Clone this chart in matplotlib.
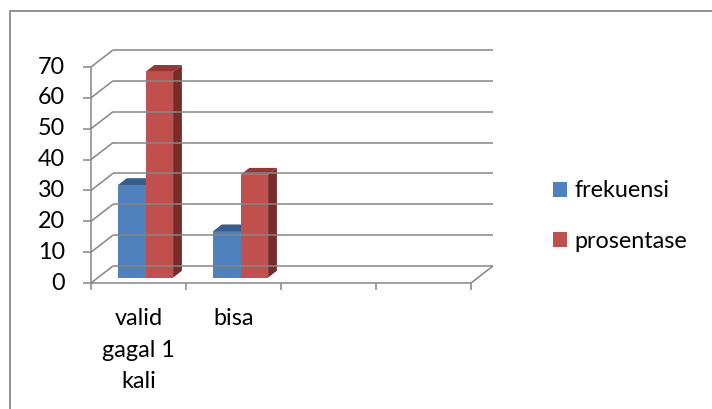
import numpy as np
import matplotlib
matplotlib.use("Agg")
import matplotlib.pyplot as plt
from matplotlib.patches import Polygon, Rectangle
from matplotlib.lines import Line2D
from matplotlib.transforms import IdentityTransform

# ---- data ----
categories = ["valid\ngagal 1\nkali", "bisa", "", ""]
series_names = ["frekuensi", "prosentase"]
frekuensi = [30, 15]
prosentase = [66.67, 33.33]
y_ticks = [0, 10, 20, 30, 40, 50, 60, 70]

# ---- style ----
FONT = "Lato"
FS = 16.8
GRID = "#868686"
BLUE = ("#4F81BD", "#385D8A", "#2C4D75")
RED = ("#C0504D", "#943634", "#772C2A")
DEPTH = np.array([22.0, 17.0])   # pixel offset from front plane to back wall
BAR_D0, BAR_D1 = 0.32, 0.72       # bar depth span (fraction of floor depth)
BAR_W = 0.29                      # bar width in category units

plt.rcParams["font.family"] = [FONT, "DejaVu Sans"]

W, H, DPI = 712, 409, 100
fig = plt.figure(figsize=(W / DPI, H / DPI), dpi=DPI)
ax = fig.add_axes([91 / W, 126 / H, 380 / W, 216 / H])
ax.set_xlim(0, len(categories))
ax.set_ylim(y_ticks[0], y_ticks[-1])
ax.axis("off")

ident = IdentityTransform()


def proj(x, v, d=0.0):
    """Screen position of (category x, value v) pushed d of the way to the back wall."""
    return ax.transData.transform((x, v)) + d * DEPTH


def seg(p0, p1, color=GRID, lw=1.1):
    fig.add_artist(Line2D([p0[0], p1[0]], [p0[1], p1[1]], transform=ident,
                          color=color, lw=lw, solid_capstyle="butt"))


def poly(pts, color):
    fig.add_artist(Polygon(np.array(pts), closed=True, transform=ident,
                           facecolor=color, edgecolor="none"))


n = len(categories)

# back wall + left wall gridlines
for v in y_ticks:
    seg(proj(0, v, 1), proj(n, v, 1))
    seg(proj(0, v, 0), proj(0, v, 1))

# floor edges
seg(proj(0, 0, 0), proj(n, 0, 0))
seg(proj(n, 0, 0), proj(n, 0, 1))

# value axis with ticks and labels
seg(proj(0, 0), proj(0, y_ticks[-1]))
for v in y_ticks:
    p = proj(0, v)
    seg(p + np.array([-8, 0]), p)
    ax.annotate(str(v), xy=(0, v), xytext=(-26, 0), textcoords="offset pixels",
                ha="right", va="center", fontsize=FS, annotation_clip=False)

# category axis ticks and labels
for i in range(n + 1):
    p = proj(i, 0)
    seg(p, p + np.array([0, -7]))
for i, cat in enumerate(categories):
    if cat:
        ax.annotate(cat, xy=(i + 0.5, 0), xytext=(0, -25), textcoords="offset pixels",
                    ha="center", va="top", fontsize=FS, linespacing=1.62,
                    annotation_clip=False)


def bar3d(x0, x1, v, colors):
    front, top, side = colors
    poly([proj(x1, 0, BAR_D0), proj(x1, 0, BAR_D1), proj(x1, v, BAR_D1), proj(x1, v, BAR_D0)], side)
    poly([proj(x0, 0, BAR_D0), proj(x1, 0, BAR_D0), proj(x1, v, BAR_D0), proj(x0, v, BAR_D0)], front)
    poly([proj(x0, v, BAR_D0), proj(x1, v, BAR_D0), proj(x1, v, BAR_D1), proj(x0, v, BAR_D1)], top)


for i in range(len(frekuensi)):
    c = i + 0.5
    bar3d(c - BAR_W, c, frekuensi[i], BLUE)
    bar3d(c, c + BAR_W, prosentase[i], RED)

# legend
handles = [Rectangle((0, 0), 1, 1, facecolor=BLUE[0]), Rectangle((0, 0), 1, 1, facecolor=RED[0])]
fig.legend(handles, series_names, loc="center left", bbox_to_anchor=(553 / W, 1 - 216 / H),
           frameon=False, fontsize=FS, handlelength=0.62, handleheight=0.62,
           handletextpad=0.3, labelspacing=1.25, borderpad=0, borderaxespad=0)

# chart-area border (top and left edges fall inside the image)
fig.add_artist(Rectangle((9.5 / W, -0.1), 1.2, 397.5 / H + 0.1, transform=fig.transFigure,
                         fill=False, edgecolor="#8A8A8A", lw=1.3))

fig.savefig("out.png", dpi=DPI)
